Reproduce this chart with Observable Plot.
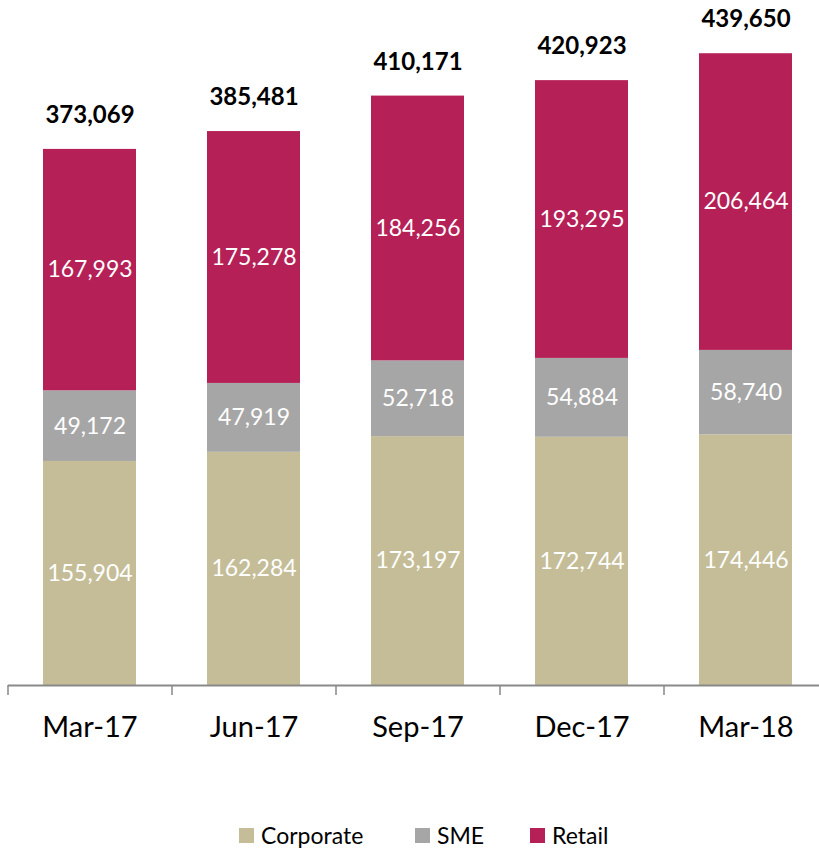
<!DOCTYPE html>
<html>
<head>
<meta charset="utf-8">
<script src="https://cdn.jsdelivr.net/npm/d3@7"></script>
<script src="https://cdn.jsdelivr.net/npm/@observablehq/plot@0.6"></script>
<style>
  html, body { margin: 0; padding: 0; background: #ffffff; }
  #wrap { width: 819px; height: 849px; overflow: hidden; position: relative; font-family: Lato, "Open Sans", sans-serif; }
  #chart svg { max-width: none !important; }
  #legend { position: absolute; left: 0; top: 821px; width: 819px; height: 28px; font-size: 23px; color: #000; }
  .item { position: absolute; top: 0; display: flex; align-items: center; height: 28px; }
  .sw { width: 15px; height: 15px; margin-right: 7px; display: inline-block; }
</style>
</head>
<body>
<div id="wrap">
  <div id="chart"></div>
  <div id="legend"></div>
</div>
<script>
const categories = ["Mar-17", "Jun-17", "Sep-17", "Dec-17", "Mar-18"];
const seriesNames = ["Corporate", "SME", "Retail"];
const corporate = [155904, 162284, 173197, 172744, 174446];
const sme = [49172, 47919, 52718, 54884, 58740];
const retail = [167993, 175278, 184256, 193295, 206464];
const totals = [373069, 385481, 410171, 420923, 439650];
const colors = ["#C4BD97", "#A6A6A6", "#B52057"];

const seriesValues = [corporate, sme, retail];
const rows = [];
seriesNames.forEach((s, si) => {
  categories.forEach((c, ci) => rows.push({ category: c, series: s, value: seriesValues[si][ci] }));
});
const totalRows = categories.map((c, i) => ({ category: c, total: totals[i] }));

const fmt = d3.format(",");
const W = 828, H = 800;

const chart = Plot.plot({
  width: W,
  height: H,
  marginLeft: 8,
  marginRight: 0,
  marginTop: 20,
  marginBottom: H - 685,
  style: { fontFamily: "Lato, 'Open Sans', sans-serif", background: "transparent", overflow: "visible", maxWidth: "none" },
  x: { domain: categories, paddingInner: 0.43, paddingOuter: 0.215, axis: null, label: null },
  y: { domain: [0, 462770], axis: null },
  color: { domain: seriesNames, range: colors },
  marks: [
    Plot.barY(rows, Plot.stackY({ x: "category", y: "value", fill: "series", z: "series", order: seriesNames })),
    Plot.text(rows, Plot.stackY({
      x: "category", y: "value", z: "series", order: seriesNames,
      text: d => fmt(d.value), fill: "white", fontSize: 23
    })),
    Plot.text(totalRows, {
      x: "category", y: "total", text: d => fmt(d.total),
      dy: -34, fontSize: 24, fontWeight: "bold", fill: "black"
    }),
    Plot.ruleY([0], { stroke: "#898989", strokeWidth: 2 }),
    Plot.axisX({ tickSize: 10, text: null, label: null, dx: -82, stroke: "#898989", strokeWidth: 1.5 }),
    Plot.axisX({ tickSize: 0, tickPadding: 42, label: null, fontSize: 29, fill: "black", textAnchor: "middle", lineAnchor: "middle" })
  ]
});
document.getElementById("chart").appendChild(chart);

const legend = document.getElementById("legend");
const legendX = [239, 415, 530];
seriesNames.forEach((s, i) => {
  const item = document.createElement("div");
  item.className = "item";
  item.style.left = legendX[i] + "px";
  const sw = document.createElement("span");
  sw.className = "sw";
  sw.style.background = colors[i];
  const t = document.createElement("span");
  t.textContent = s;
  item.appendChild(sw);
  item.appendChild(t);
  legend.appendChild(item);
});
</script>
</body>
</html>
